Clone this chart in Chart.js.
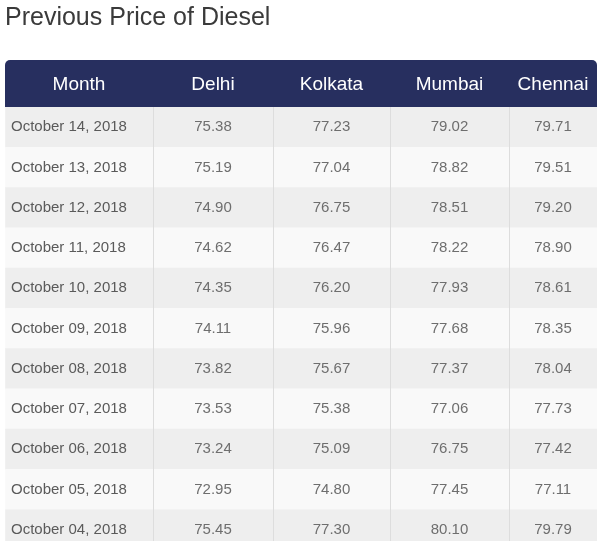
<!DOCTYPE html>
<html>
<head>
<meta charset="utf-8">
<title>Previous Price of Diesel</title>
<script src="https://cdn.jsdelivr.net/npm/chart.js@4.4.1/dist/chart.umd.min.js"></script>
<style>
  html, body { margin: 0; padding: 0; background: #fff; overflow: hidden; }
  #wrap { width: 600px; height: 550px; }
</style>
</head>
<body>
<div id="wrap"><canvas id="myChart"></canvas></div>
<script>
'use strict';
// ---------- Data ------------- //
let months = ['October 14, 2018', 'October 13, 2018', 'October 12, 2018', 'October 11, 2018',
  'October 10, 2018', 'October 09, 2018', 'October 08, 2018', 'October 07, 2018',
  'October 06, 2018', 'October 05, 2018', 'October 04, 2018'];
let headers = ['Month', 'Delhi', 'Kolkata', 'Mumbai', 'Chennai'];
let delhi = [75.38, 75.19, 74.90, 74.62, 74.35, 74.11, 73.82, 73.53, 73.24, 72.95, 75.45];
let kolkata = [77.23, 77.04, 76.75, 76.47, 76.20, 75.96, 75.67, 75.38, 75.09, 74.80, 77.30];
let mumbai = [79.02, 78.82, 78.51, 78.22, 77.93, 77.68, 77.37, 77.06, 76.75, 77.45, 80.10];
let chennai = [79.71, 79.51, 79.20, 78.90, 78.61, 78.35, 78.04, 77.73, 77.42, 77.11, 79.79];

// ---------- Layout (column widths of the table) ------------- //
let colWidths = [148, 120, 117, 119, 88];
let fontFamily = '"Liberation Sans", Arial, sans-serif';

let colEdges = [0];
for (let i = 0; i < colWidths.length; i++) {
  colEdges.push(colEdges[i] + colWidths[i]);
}
let colCenters = [];
for (let i = 0; i < colWidths.length; i++) {
  colCenters.push((colEdges[i] + colEdges[i + 1]) / 2);
}
let tableWidth = colEdges[colEdges.length - 1];

// one floating bar per cell, one dataset per column
function makeColumn(index, prices) {
  return {
    label: headers[index],
    data: months.map(() => [colEdges[index], colEdges[index + 1]]),
    prices: prices,
    backgroundColor: (ctx) => ctx.dataIndex % 2 === 0 ? '#eeeeee' : '#f9f9f9',
    borderWidth: 0,
    grouped: false,
    barPercentage: 1,
    categoryPercentage: 1
  };
}

// ---------- Plugins ------------- //
let headerBackground = {
  id: 'headerBackground',
  beforeDraw(chart) {
    let s = chart.scales.xh;
    let ctx = chart.ctx;
    ctx.save();
    ctx.fillStyle = '#272f5f';
    ctx.beginPath();
    ctx.roundRect(s.left, s.top, s.right - s.left, s.bottom - s.top, [5, 5, 0, 0]);
    ctx.fill();
    ctx.restore();
  }
};

let cellText = {
  id: 'cellText',
  afterDatasetsDraw(chart) {
    let ctx = chart.ctx;
    ctx.save();
    ctx.font = '15px ' + fontFamily;
    ctx.fillStyle = '#6e6e6e';
    ctx.textAlign = 'center';
    ctx.textBaseline = 'middle';
    chart.data.datasets.forEach((ds, d) => {
      if (!ds.prices) return;
      chart.getDatasetMeta(d).data.forEach((bar, i) => {
        let p = bar.getCenterPoint();
        ctx.fillText(ds.prices[i].toFixed(2), p.x, p.y);
      });
    });
    ctx.restore();
  }
};

// ---------- Chart ------------- //
let chartObject = {
  type: 'bar',
  data: {
    labels: months,
    datasets: [
      makeColumn(0, null),
      makeColumn(1, delhi),
      makeColumn(2, kolkata),
      makeColumn(3, mumbai),
      makeColumn(4, chennai)
    ]
  },
  options: {
    indexAxis: 'y',
    responsive: true,
    maintainAspectRatio: false,
    animation: false,
    layout: { padding: { left: 5, right: 3, top: 0, bottom: 0 } },
    plugins: {
      legend: { display: false },
      tooltip: { enabled: false },
      title: {
        display: true,
        text: 'Previous Price of Diesel',
        align: 'start',
        color: '#3a3a3a',
        font: { family: fontFamily, size: 25, weight: 'normal' },
        padding: { top: 3, bottom: 27 }
      }
    },
    scales: {
      x: {
        type: 'linear',
        min: 0,
        max: tableWidth,
        afterBuildTicks(axis) {
          axis.ticks = colEdges.map(v => ({ value: v }));
        },
        afterFit(axis) {
          axis.height = 0;
          axis.paddingLeft = 0;
          axis.paddingRight = 0;
        },
        ticks: { display: false },
        grid: {
          drawTicks: false,
          z: 1,
          color: (ctx) => (ctx.index === 0 || ctx.index === colEdges.length - 1) ? 'rgba(0,0,0,0)' : '#dddddd'
        },
        border: { display: false }
      },
      xh: {
        type: 'linear',
        position: 'top',
        min: 0,
        max: tableWidth,
        afterBuildTicks(axis) {
          axis.ticks = colCenters.map(v => ({ value: v }));
        },
        afterFit(axis) {
          axis.height = 47;
          axis.paddingLeft = 0;
          axis.paddingRight = 0;
        },
        ticks: {
          autoSkip: false,
          maxRotation: 0,
          minRotation: 0,
          padding: 11,
          color: '#ffffff',
          font: { family: fontFamily, size: 19 },
          callback: (value, index) => headers[index]
        },
        grid: { display: false, drawTicks: false },
        border: { display: false }
      },
      y: {
        type: 'category',
        afterFit(axis) {
          axis.width = 0;
          axis.paddingTop = 0;
          axis.paddingBottom = 0;
        },
        ticks: {
          mirror: true,
          padding: 6,
          z: 1,
          color: '#5a5a5a',
          font: { family: fontFamily, size: 15 }
        },
        grid: { display: false, drawTicks: false },
        border: { display: false }
      }
    }
  },
  plugins: [headerBackground, cellText]
};

let ctx = document.getElementById('myChart').getContext('2d');
let myChart = new Chart(ctx, chartObject);
</script>
</body>
</html>
